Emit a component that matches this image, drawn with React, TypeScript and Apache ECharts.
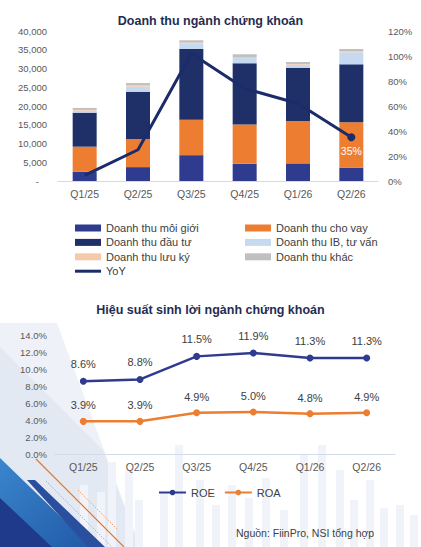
import React, { useEffect, useRef } from "react";
import * as echarts from "echarts";

const categories = ["Q1/25", "Q2/25", "Q3/25", "Q4/25", "Q1/26", "Q2/26"];
const brokerage = [2500, 3700, 6900, 4600, 4700, 3550];
const lending = [6650, 7500, 9450, 10500, 11300, 12100];
const investment = [9070, 12620, 18850, 16270, 14220, 15460];
const ibAdvisory = [530, 1330, 1520, 1420, 800, 3210];
const custody = [200, 370, 170, 270, 180, 260];
const otherRev = [540, 600, 630, 710, 540, 620];
const yoy = [4.5, 25, 102, 74, 62, 35];

const roe = [8.6, 8.8, 11.5, 11.9, 11.3, 11.3];
const roa = [3.9, 3.9, 4.9, 5.0, 4.8, 4.9];

const revTicks = { min: 0, max: 40000, interval: 5000 };
const yoyTicks = { min: 0, max: 120, interval: 20 };
const profTicks = { min: 0, max: 14, interval: 2 };

const FONT = "'Liberation Sans', Arial, sans-serif";
const C_BROKER = "#2f3b8f";
const C_LEND = "#ed7d31";
const C_INV = "#1f3068";
const C_IB = "#c7d9f0";
const C_CUST = "#f7c9ab";
const C_OTHER = "#c0c0c0";
const C_LINE = "#1c2c6a";

export default function App() {
  const ref = useRef<HTMLDivElement>(null);
  useEffect(() => {
    document.body.style.margin = "0";
    const chart = echarts.init(ref.current!, null, { renderer: "svg" });
    const barNames = [
      "Doanh thu môi giới",
      "Doanh thu cho vay",
      "Doanh thu đầu tư",
      "Doanh thu IB, tư vấn",
      "Doanh thu lưu ký",
      "Doanh thu khác",
    ];
    const barData = [brokerage, lending, investment, ibAdvisory, custody, otherRev];
    const barColors = [C_BROKER, C_LEND, C_INV, C_IB, C_CUST, C_OTHER];
    const barSeries = barNames.map((n, i) => ({
      name: n,
      type: "bar",
      stack: "rev",
      xAxisIndex: 0,
      yAxisIndex: 0,
      barWidth: 24,
      itemStyle: { color: barColors[i] },
      data: barData[i],
    }));
    const lastIdx = yoy.length - 1;
    const yoyData = yoy.map((v, i) =>
      i === lastIdx
        ? {
            value: v,
            symbol: "circle",
            symbolSize: 8,
            label: {
              show: true,
              position: "bottom",
              distance: 4,
              color: "#ffffff",
              fontSize: 10.5,
              fontFamily: FONT,
              formatter: (p: any) => Math.round(p.value) + "%",
            },
          }
        : { value: v, symbol: "none" }
    );
    const legendText = { fontSize: 11, color: "#404040", fontFamily: FONT, lineHeight: 12 };
    const axisLabel = { fontSize: 9.5, color: "#595959", fontFamily: FONT };
    const xLabel = { fontSize: 10.5, color: "#595959", fontFamily: FONT, margin: 7 };

    const deco: any[] = [
      { type: "polygon", shape: { points: [[0, 323], [57, 323], [140, 547], [0, 547]] }, style: { fill: "#eef2f8" }, z: -10 },
      { type: "polygon", shape: { points: [[0, 347], [103, 450], [140, 547], [0, 547]] }, style: { fill: "#e3e9f3" }, z: -9 },
    ];
    const fbars = [
      [80, 485, 8], [97, 492, 8], [108, 462, 8], [125, 470, 8], [135, 500, 8], [160, 492, 8], [175, 445, 8], [196, 480, 8],
      [212, 505, 8], [228, 485, 8], [245, 498, 8], [262, 478, 8], [280, 510, 8], [300, 455, 8], [318, 445, 8], [336, 470, 8],
      [350, 500, 8], [366, 480, 8], [380, 508, 8], [396, 505, 8], [410, 515, 8],
    ];
    fbars.forEach(([x, y, w]) =>
      deco.push({ type: "rect", shape: { x, y, width: w, height: 547 - y }, style: { fill: "#f0f3f9" }, z: -8 })
    );
    deco.push(
      {
        type: "polygon",
        shape: { points: [[0, 458], [92, 547], [0, 547]] },
        style: {
          fill: new echarts.graphic.LinearGradient(0, 0, 1, 1, [
            { offset: 0, color: "#3a86cc" },
            { offset: 1, color: "#2159a8" },
          ]),
        },
        z: -5,
      },
      { type: "polygon", shape: { points: [[27, 480], [35, 480], [105, 547], [88, 547]] }, style: { fill: "#2a4f9e" }, z: -4 },
      { type: "polygon", shape: { points: [[0, 498], [52, 547], [0, 547]] }, style: { fill: "#1f3a8a" }, z: -3 },
      { type: "line", shape: { x1: 36, y1: 459, x2: 124, y2: 547 }, style: { stroke: "#e8772e", lineWidth: 1.2 }, z: -2 },
      { type: "line", shape: { x1: 46, y1: 481, x2: 112, y2: 547 }, style: { stroke: "#f0a070", lineWidth: 1, lineDash: [1.5, 1.5] }, z: -2 },
      { type: "line", shape: { x1: 78, y1: 490, x2: 118, y2: 530 }, style: { stroke: "#f0a070", lineWidth: 1, lineDash: [1.5, 1.5] }, z: -2 },
      {
        type: "text",
        x: 236,
        y: 533,
        style: {
          text: "Nguồn: FiinPro, NSI tổng hợp",
          fontSize: 10.5,
          fontFamily: FONT,
          fill: "#404040",
          verticalAlign: "middle",
        },
        z: 5,
      }
    );

    chart.setOption({
      animation: false,
      backgroundColor: "#ffffff",
      textStyle: { fontFamily: FONT },
      title: [
        {
          text: "Doanh thu ngành chứng khoán",
          left: "center",
          top: 14,
          padding: 0,
          textStyle: { fontSize: 12.5, fontWeight: "bold", color: "#1f2d52", fontFamily: FONT },
        },
        {
          text: "Hiệu suất sinh lời ngành chứng khoán",
          left: "center",
          top: 303,
          padding: 0,
          textStyle: { fontSize: 12.5, fontWeight: "bold", color: "#1f2d52", fontFamily: FONT },
        },
      ],
      graphic: deco,
      legend: [
        {
          orient: "vertical",
          left: 75,
          top: 222,
          padding: 0,
          itemWidth: 26,
          itemHeight: 7,
          itemGap: 2.4,
          textStyle: legendText,
          data: [
            { name: "Doanh thu môi giới", icon: "rect" },
            { name: "Doanh thu đầu tư", icon: "rect" },
            { name: "Doanh thu lưu ký", icon: "rect" },
            { name: "YoY", icon: "path://M0,2 L26,2 L26,5 L0,5 Z" },
          ],
        },
        {
          orient: "vertical",
          left: 245,
          top: 222,
          padding: 0,
          itemWidth: 26,
          itemHeight: 7,
          itemGap: 2.4,
          textStyle: legendText,
          data: [
            { name: "Doanh thu cho vay", icon: "rect" },
            { name: "Doanh thu IB, tư vấn", icon: "rect" },
            { name: "Doanh thu khác", icon: "rect" },
          ],
        },
        {
          orient: "horizontal",
          left: 158,
          top: 487,
          padding: 0,
          itemWidth: 27,
          itemHeight: 7,
          itemGap: 9,
          textStyle: { fontSize: 11, color: "#404040", fontFamily: FONT },
          data: ["ROE", "ROA"],
        },
      ],
      grid: [
        { left: 58, top: 31, width: 320, height: 150 },
        { left: 55, top: 335, width: 340, height: 119.7 },
      ],
      xAxis: [
        {
          type: "category",
          gridIndex: 0,
          data: categories,
          axisLine: { lineStyle: { color: "#d9d9d9" } },
          axisTick: { show: false },
          axisLabel: xLabel,
        },
        {
          type: "category",
          gridIndex: 1,
          data: categories,
          axisLine: { lineStyle: { color: "#d3daea" } },
          axisTick: { show: false },
          axisLabel: xLabel,
        },
      ],
      yAxis: [
        {
          type: "value",
          gridIndex: 0,
          ...revTicks,
          splitLine: { show: false },
          axisLine: { show: false },
          axisLabel: {
            ...axisLabel,
            margin: 11,
            formatter: (v: number) => (v === 0 ? "{d|-}" : v.toLocaleString("en-US")),
            rich: { d: { fontSize: 9.5, color: "#595959", padding: [0, 8, 0, 0] } },
          },
        },
        {
          type: "value",
          gridIndex: 0,
          position: "right",
          ...yoyTicks,
          splitLine: { show: false },
          axisLine: { show: false },
          axisLabel: { ...axisLabel, margin: 10, formatter: (v: number) => v + "%" },
        },
        {
          type: "value",
          gridIndex: 1,
          ...profTicks,
          splitLine: { show: false },
          axisLine: { show: false },
          axisLabel: { ...axisLabel, margin: 8, formatter: (v: number) => v.toFixed(1) + "%" },
        },
      ],
      series: [
        ...barSeries,
        {
          name: "YoY",
          type: "line",
          xAxisIndex: 0,
          yAxisIndex: 1,
          z: 5,
          symbol: "none",
          showSymbol: true,
          itemStyle: { color: C_LINE },
          lineStyle: { color: C_LINE, width: 3 },
          data: yoyData,
        },
        {
          name: "ROE",
          type: "line",
          xAxisIndex: 1,
          yAxisIndex: 2,
          symbol: "circle",
          symbolSize: 7,
          itemStyle: { color: C_BROKER },
          lineStyle: { color: C_BROKER, width: 2.5 },
          label: {
            show: true,
            position: "top",
            distance: 8,
            color: "#404040",
            fontSize: 11,
            fontFamily: FONT,
            formatter: (p: any) => p.value.toFixed(1) + "%",
          },
          data: roe,
        },
        {
          name: "ROA",
          type: "line",
          xAxisIndex: 1,
          yAxisIndex: 2,
          symbol: "circle",
          symbolSize: 7,
          itemStyle: { color: C_LEND },
          lineStyle: { color: C_LEND, width: 2.5 },
          label: {
            show: true,
            position: "top",
            distance: 7,
            color: "#404040",
            fontSize: 11,
            fontFamily: FONT,
            formatter: (p: any) => p.value.toFixed(1) + "%",
          },
          data: roa,
        },
      ],
    });
    return () => chart.dispose();
  }, []);
  return <div ref={ref} style={{ width: 421, height: 547 }} />;
}
